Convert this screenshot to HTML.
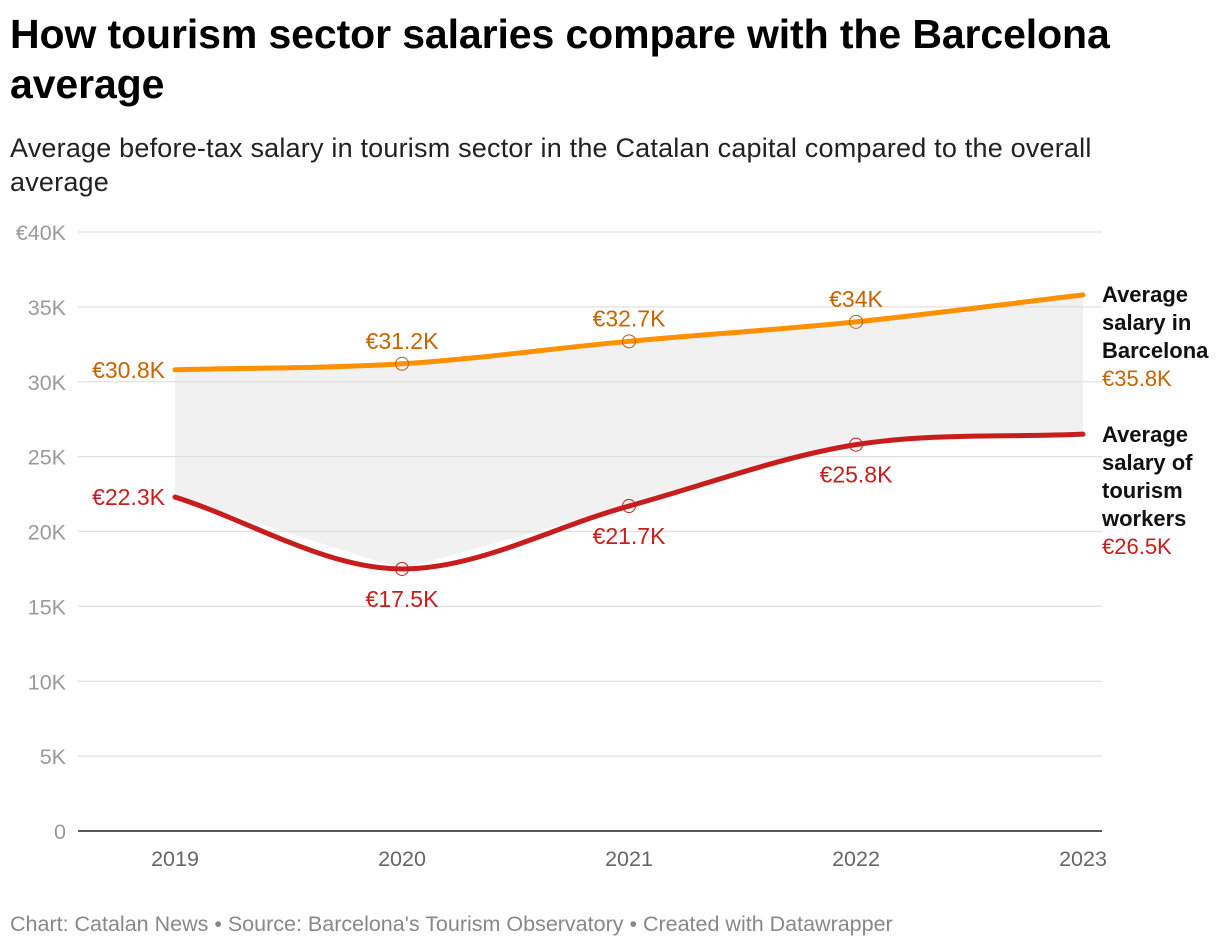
<!DOCTYPE html>
<html><head><meta charset="utf-8"><style>
body{margin:0;background:#fff;width:1220px;height:948px;overflow:hidden;font-family:"Liberation Sans",Roboto,sans-serif}
h1{position:absolute;left:10px;top:9px;margin:0;font-size:41px;line-height:50px;font-weight:bold;color:#000;width:1150px;letter-spacing:-0.1px}
.sub{position:absolute;left:10px;top:131px;font-size:27px;line-height:34px;color:#222;width:1120px;letter-spacing:0.2px}
.foot{position:absolute;left:10px;top:912px;font-size:21.5px;color:#888}
svg{position:absolute;left:0;top:0}
</style></head><body>
<h1>How tourism sector salaries compare with the Barcelona average</h1>
<div class="sub">Average before-tax salary in tourism sector in the Catalan capital compared to the overall average</div>
<svg id="c" width="1220" height="948"></svg>
<div class="foot">Chart: Catalan News • Source: Barcelona's Tourism Observatory • Created with Datawrapper</div>
<script>
const years=[2019,2020,2021,2022,2023];
const avgSalary=[30.8,31.2,32.7,34,35.8];
const tourismSalary=[22.3,17.5,21.7,25.8,26.5];
const avgLabels=["€30.8K","€31.2K","€32.7K","€34K","€35.8K"];
const tourLabels=["€22.3K","€17.5K","€21.7K","€25.8K","€26.5K"];
const yTicks=[0,5,10,15,20,25,30,35,40];
const yTickLabels=["0","5K","10K","15K","20K","25K","30K","35K","€40K"];
const NS="http://www.w3.org/2000/svg";
const svg=document.getElementById('c');
const x=i=>175+(1083-175)*(years[i]-years[0])/(years[years.length-1]-years[0]);
const y=v=>831-(831-232)*v/40;
function el(t,a,txt){const e=document.createElementNS(NS,t);for(const k in a)e.setAttribute(k,a[k]);if(txt!=null)e.textContent=txt;svg.appendChild(e);return e;}
function mono(vals){const n=vals.length,xs=vals.map((_,i)=>x(i)),ys=vals.map(y);const d=[],m=[];
for(let i=0;i<n-1;i++)d.push((ys[i+1]-ys[i])/(xs[i+1]-xs[i]));
m[0]=d[0];m[n-1]=d[n-2];for(let i=1;i<n-1;i++)m[i]=d[i-1]*d[i]<=0?0:(d[i-1]+d[i])/2;
let p=`M${xs[0]},${ys[0]}`;for(let i=0;i<n-1;i++){const h=(xs[i+1]-xs[i])/3;p+=` C${xs[i]+h},${ys[i]+m[i]*h} ${xs[i+1]-h},${ys[i+1]-m[i+1]*h} ${xs[i+1]},${ys[i+1]}`;}return p;}
let ap=mono(avgSalary);for(let i=tourismSalary.length-1;i>=0;i--)ap+=` L${x(i)},${y(tourismSalary[i])}`;ap+=' Z';
const area=el('path',{d:ap,fill:'#f1f1f1'});


yTicks.forEach((t,i)=>{
 const g=el('line',{x1:78,x2:1102,y1:y(t),y2:y(t),stroke:t===0?'#222':'#e0e0e0','stroke-width':t===0?1.5:1.2});
 
 
 const l=el('text',{x:66,y:y(t)+8,'text-anchor':'end','font-size':21.5,fill:'#9a9a9a'},yTickLabels[i]);
 
 
});
years.forEach((yr,i)=>{
 const l=el('text',{x:i===years.length-1?1083:x(i),y:866,'text-anchor':'middle','font-size':21.5,fill:'#666'},yr);
 
 
});
const lo=el('path',{d:mono(avgSalary),fill:'none',stroke:'#ff9000','stroke-width':5,'stroke-linecap':'round'});


const lr=el('path',{d:mono(tourismSalary),fill:'none',stroke:'#c71e1d','stroke-width':5,'stroke-linecap':'round'});


for(let i=1;i<4;i++){
 const a=el('circle',{cx:x(i),cy:y(avgSalary[i]),r:6.5,fill:'none',stroke:'#b85f00','stroke-width':1});
 
 
 const b=el('circle',{cx:x(i),cy:y(tourismSalary[i]),r:6.5,fill:'none',stroke:'#c71e1d','stroke-width':1});
 
 
}
for(let i=0;i<4;i++){
 const oa=i===0?{x:x(0)-10,y:y(avgSalary[0])+8,a:'end'}:{x:x(i),y:y(avgSalary[i])-15,a:'middle'};
 const t=el('text',{x:oa.x,y:oa.y,'text-anchor':oa.a,'font-size':23,fill:'#c46500'},avgLabels[i]);
 
 
 let ob;
 if(i===0)ob={x:x(0)-10,y:y(tourismSalary[0])+8,a:'end'};
 else ob={x:x(i),y:y(tourismSalary[i])+38,a:'middle'};
 const u=el('text',{x:ob.x,y:ob.y,'text-anchor':ob.a,'font-size':23,fill:'#c71e1d'},tourLabels[i]);
 
 
}
function legend(lines,val,ty,col,name){
 lines.forEach((s,k)=>{const t=el('text',{x:1102,y:ty+k*28,'font-size':22,'font-weight':'bold',fill:'#111'},s);
  
  });
 const v=el('text',{x:1102,y:ty+lines.length*28,'font-size':22,fill:col},val);
 
 
}
legend(["Average","salary in","Barcelona"],avgLabels[4],302,'#c46500','series-average');
legend(["Average","salary of","tourism","workers"],tourLabels[4],442,'#c71e1d','series-tourism');
</script>
</body></html>
